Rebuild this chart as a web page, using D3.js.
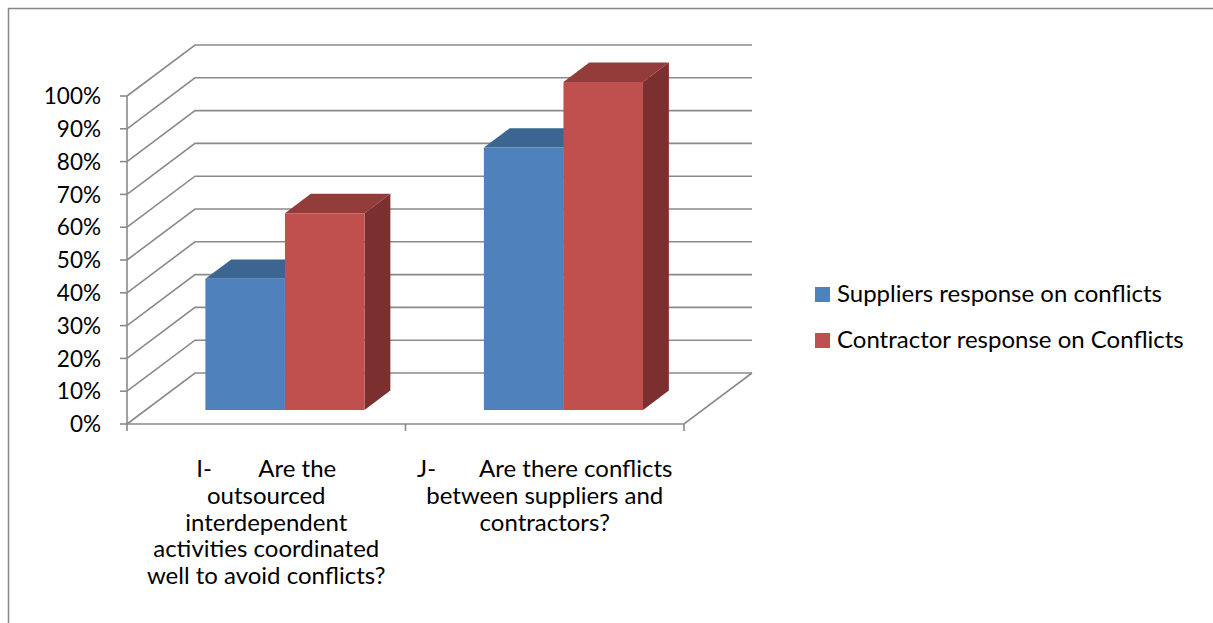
<!DOCTYPE html>
<html>
<head>
<meta charset="utf-8">
<script src="https://cdn.jsdelivr.net/npm/d3@7"></script>
<style>
  body { margin: 0; background: #fff; }
  svg text { font-family: Lato, "Open Sans", sans-serif; fill: #000; }
</style>
</head>
<body>
<div id="chart"></div>
<script>
// Categories, series and values
const categories = [
    ['I-\tAre the', 'outsourced', 'interdependent', 'activities coordinated', 'well to avoid conflicts?'],
    ['J-\tAre there conflicts', 'between suppliers and', 'contractors?']
];
const categoryKeys = ['I', 'J'];
const seriesNames = ['Suppliers response on conflicts', 'Contractor response on Conflicts'];
const suppliersValues = [0.40, 0.80];
const contractorValues = [0.60, 1.00];
const tickValues = [0, 0.1, 0.2, 0.3, 0.4, 0.5, 0.6, 0.7, 0.8, 0.9, 1.0];

const width = 1213;
const height = 623;

// 3D projection: depth offset of the back wall
const depthX = 68;
const depthY = -51;
const barFront = 0.275;
const barDepth = 0.38;

const colors = {
    front: ['#4f81bd', '#c0504d'],
    top: ['#3c6591', '#943c3a'],
    side: ['#3a6390', '#7b2f2e']
};
const gridColor = '#8a8a8a';

const svg = d3.select('#chart')
    .append('svg')
    .attr('width', width)
    .attr('height', height);

// Chart border
svg.append('rect')
    .attr('x', 8.5)
    .attr('y', 8.5)
    .attr('width', 1400)
    .attr('height', 800)
    .attr('fill', 'none')
    .attr('stroke', '#868686')
    .attr('stroke-width', 1.5);

// Scales
const y = d3.scaleLinear().domain([0, 1]).range([424, 96]);
const x0 = d3.scaleBand().domain(categoryKeys).range([127, 684]);
const x1 = d3.scaleBand().domain(seriesNames).range([0, x0.bandwidth()])
    .paddingInner(0).paddingOuter(0.75);

const proj = (x, v, d) => [x + d * depthX, y(v) + d * depthY];
const line = d3.line();

const [xl, xr] = x0.range();

// Left wall diagonals and back wall gridlines
const grid = svg.append('g')
    .attr('fill', 'none')
    .attr('stroke', gridColor)
    .attr('stroke-width', 1.6);

tickValues.forEach(v => {
    grid.append('path')
        .attr('d', line([proj(xl, v, 0), proj(xl, v, 1), proj(xr, v, 1)]));
});

// Floor outline
grid.append('path')
    .attr('d', line([proj(xl, 0, 0), proj(xr, 0, 0), proj(xr, 0, 1)]));

// Vertical axis
const axis = svg.append('g')
    .attr('stroke', gridColor)
    .attr('stroke-width', 1.6)
    .attr('fill', 'none');

axis.append('path').attr('d', line([[xl, y(1)], [xl, y(0)]]));
tickValues.forEach(v => {
    axis.append('path').attr('d', line([[xl - 7, y(v)], [xl, y(v)]]));
});

// Category ticks
[...categoryKeys.map(k => x0(k)), xr].forEach(xv => {
    axis.append('path').attr('d', line([[xv, y(0)], [xv, y(0) + 7]]));
});

// Tick labels
svg.append('g')
    .selectAll('text')
    .data(tickValues)
    .join('text')
    .attr('x', 101)
    .attr('y', d => y(d))
    .attr('dy', '0.36em')
    .attr('text-anchor', 'end')
    .style('font-size', '22.5px')
    .text(d => d3.format('.0%')(d));

// Bars
const seriesValues = [suppliersValues, contractorValues];
const bars = svg.append('g');

categoryKeys.forEach((key, ci) => {
    seriesNames.forEach((name, si) => {
        const v = seriesValues[si][ci];
        const xa = x0(key) + x1(name);
        const xb = xa + x1.bandwidth();
        const d0 = barFront;
        const d1 = barFront + barDepth;
        const g = bars.append('g');
        // top face
        g.append('path')
            .attr('fill', colors.top[si])
            .attr('d', line([proj(xa, v, d0), proj(xb, v, d0), proj(xb, v, d1), proj(xa, v, d1)]) + 'Z');
        // side face
        g.append('path')
            .attr('fill', colors.side[si])
            .attr('d', line([proj(xb, 0, d0), proj(xb, v, d0), proj(xb, v, d1), proj(xb, 0, d1)]) + 'Z');
        // front face
        g.append('path')
            .attr('fill', colors.front[si])
            .attr('d', line([proj(xa, 0, d0), proj(xb, 0, d0), proj(xb, v, d0), proj(xa, v, d0)]) + 'Z');
    });
});

// Category labels
const labelSize = 24;
const lineGap = 26.8;
const tabWidth = 62;

categoryKeys.forEach((key, ci) => {
    const cx = x0(key) + x0.bandwidth() / 2;
    categories[ci].forEach((txt, li) => {
        const yy = 477 + li * lineGap;
        if (txt.includes('\t')) {
            const [a, b] = txt.split('\t');
            const t = svg.append('text')
                .attr('y', yy)
                .style('font-size', labelSize + 'px')
                .text(b);
            const wb = t.node().getComputedTextLength();
            const start = cx - (tabWidth + wb) / 2;
            svg.append('text').attr('x', start).attr('y', yy)
                .style('font-size', labelSize + 'px').text(a);
            t.attr('x', start + tabWidth);
        } else {
            svg.append('text')
                .attr('x', cx)
                .attr('y', yy)
                .attr('text-anchor', 'middle')
                .style('font-size', labelSize + 'px')
                .text(txt);
        }
    });
});

// Legend
const legend = svg.append('g')
    .selectAll('g')
    .data(seriesNames)
    .join('g')
    .attr('transform', (d, i) => `translate(815, ${287 + i * 46})`);

legend.append('rect')
    .attr('width', 15)
    .attr('height', 15)
    .attr('fill', (d, i) => colors.front[i]);

legend.append('text')
    .attr('x', 22)
    .attr('y', 15)
    .style('font-size', '24px')
    .text(d => d);
</script>
</body>
</html>
